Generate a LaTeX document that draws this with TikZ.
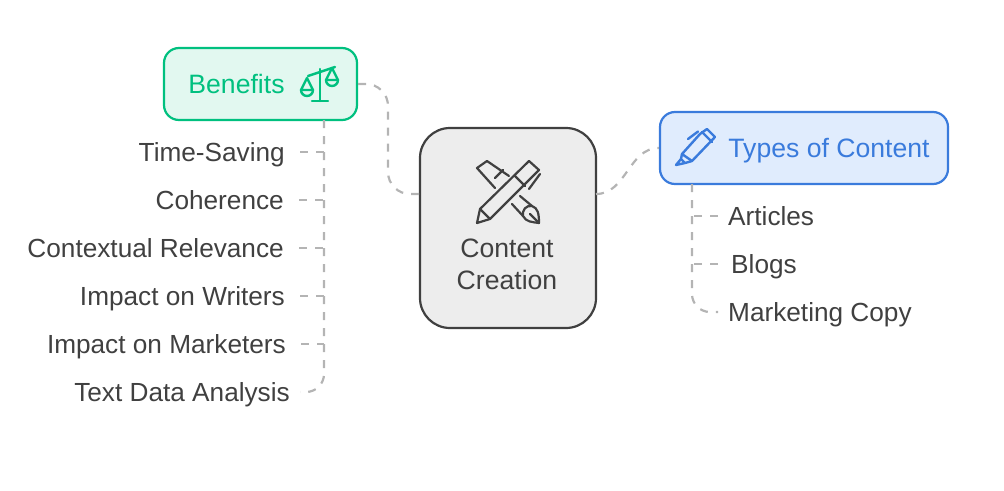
\documentclass[tikz,border=0pt]{standalone}
\usepackage{fontspec}
\setmainfont{Liberation Sans}
\usetikzlibrary{positioning,calc}
\definecolor{ink}{RGB}{64,64,64}
\definecolor{cGrey}{RGB}{237,237,237}
\definecolor{cBen}{RGB}{0,192,127}
\definecolor{cBenF}{RGB}{226,248,240}
\definecolor{cTyp}{RGB}{58,123,220}
\definecolor{cTypF}{RGB}{224,236,253}
\definecolor{cDash}{RGB}{180,180,180}
\newcommand{\lblfont}{\fontsize{26.2}{32}\selectfont}
\newcommand{\hdfont}{\fontsize{26.6}{32}\selectfont}
\tikzset{
  box/.style={draw,line width=2.2pt,rounded corners=15pt,minimum height=72pt,inner sep=0pt},
  leaf/.style={font=\lblfont,text=ink,inner ysep=0pt,inner xsep=15pt,anchor=east,text height=24pt,text depth=5pt},
  rleaf/.style={leaf,inner xsep=10pt,anchor=west},
  conn/.style={draw=cDash,line width=2.2pt,dash pattern=on 8pt off 8pt},
  icn/.style={line width=2.4pt,line join=round,line cap=round},
}
\begin{document}
\begin{tikzpicture}[x=1pt,y=-1pt]
  \useasboundingbox (0,0) rectangle (1004,490);
  % centre and headers
  \node[box,draw=ink,fill=cGrey,minimum width=176pt,minimum height=200pt,rounded corners=30pt] (main) at (508,228) {};
  \node[box,draw=cBen,fill=cBenF,minimum width=193pt] (ben) at (260.5,84) {};
  \node[box,draw=cTyp,fill=cTypF,minimum width=288pt] (typ) at (804,148) {};
  \node[font=\hdfont,text=cBen] (benT) at (236.5,84) {Benefits};
  \node[font=\hdfont,text=cTyp] (typT) at (829,151) {Types of Content};
  \node[font=\hdfont,text=ink,align=center] (mainT) at (507,264) {Content\\Creation};
  % left leaves
  \node[leaf] (timeS) at (300,152) {Time-Saving};
  \node[leaf] (coher) at (299,200) {Coherence};
  \node[leaf] (relev) at (299,248) {Contextual Relevance};
  \node[leaf] (write) at (300,296) {Impact on Writers};
  \node[leaf] (market) at (301,344) {Impact on Marketers};
  \node[leaf,inner xsep=10pt] (textD) at (300,392) {Text Data Analysis};
  % right leaves
  \node[rleaf] (artic) at (718,216) {Articles};
  \node[rleaf,inner xsep=13pt] (blogs) at (718,264) {Blogs};
  \node[rleaf] (mcopy) at (718,312) {Marketing Copy};
  % anchors on the boxes
  \coordinate (benS) at (324,120);
  \coordinate (typS) at (692,184);
  \coordinate (mainL) at (420,194);
  \coordinate (mainR) at (596,194);
  \coordinate (jogL) at (388,140);
  % edges
  \draw[conn,rounded corners=22pt] (ben.east) -| (jogL) |- (mainL);
  \draw[conn] (mainR) to[out=0,in=180] (typ.west);
  \draw[conn,rounded corners=18pt] (benS) |- (textD.east);
  \draw[conn,rounded corners=18pt] (typS) |- (mcopy.west);
  \foreach \leafn in {timeS,coher,relev,write,market}
    \draw[conn] (\leafn.east) -- (\leafn.east -| benS);
  \foreach \leafn in {artic,blogs}
    \draw[conn] (\leafn.west -| artic.west) -- (\leafn.west -| typS);
  % scales icon
  \begin{scope}[icn,draw=cBen]
    \draw (308,76) -- (335,67);
    \draw (320,69) -- (320,101) (312,101) -- (328,101);
    \draw (301,90) -- (307,78) -- (313,90) (301,90) -- (313,90);
    \draw (301,90) arc[start angle=180,end angle=0,radius=6];
    \draw (326,80) -- (332,68) -- (338,80) (326,80) -- (338,80);
    \draw (326,80) arc[start angle=180,end angle=0,radius=6];
  \end{scope}
  % crossed tools icon
  \begin{scope}[icn,draw=ink,line width=2.2pt]
    \draw (477,223) -- (480,209) -- (529,161) -- (539,170) -- (490,219) -- cycle;
    \draw (480,209) -- (490,219) (515,176) -- (525,186) (540,174) -- (529,189);
    \draw (495,188) -- (477,168) -- (487,161) -- (509,176) (495,178) -- (503,170);
    \draw (512,204) -- (523,216) (520,196) -- (532,206) (530,214) -- (539,223);
    \draw (523,216) .. controls (526,222) and (532,222) .. (539,223) .. controls (539,214) and (538,208) .. (532,206) .. controls (526,205) and (522,210) .. (523,216);
  \end{scope}
  % pen icon
  \begin{scope}[icn,draw=cTyp]
    \draw (682,154) -- (700,134) -- (707,129) -- (715,137) -- (692,161) -- cycle;
    \draw (682,154) -- (681,159) -- (676,165) -- (685,163) -- (692,161) (681,159) -- (685,163);
    \draw (702,132) -- (712,142) (688,139) -- (698,131.5);
  \end{scope}
\end{tikzpicture}
\end{document}
